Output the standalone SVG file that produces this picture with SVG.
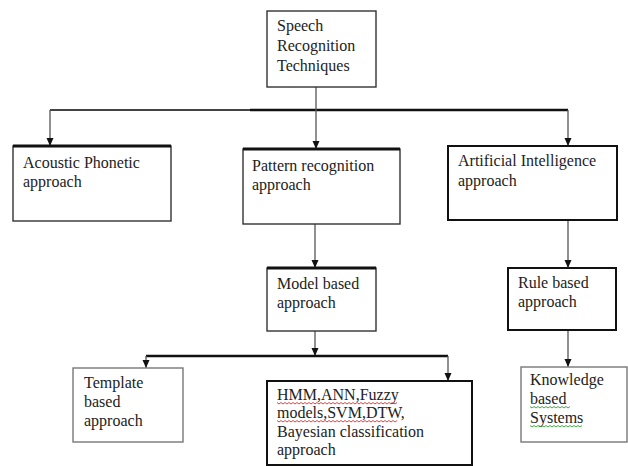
<svg xmlns="http://www.w3.org/2000/svg" width="628" height="466" viewBox="0 0 628 466">
<style>
text{font-family:"Liberation Serif","Times New Roman",serif;font-size:16px;fill:#222}
.box{fill:#fff;stroke:#333;stroke-width:1.4}
.dark{fill:#fff;stroke:#111;stroke-width:2}
.light{fill:#fff;stroke:#777;stroke-width:1.4}
.top{stroke:#111;stroke-width:3}
.v{stroke:#555;stroke-width:1.3;fill:none}
.h{stroke:#111;stroke-width:2.5;fill:none}
.red{stroke:#e03030;stroke-width:0.9;fill:none}
.green{stroke:#30a030;stroke-width:0.9;fill:none}
</style>
<defs>
<marker id="arr" viewBox="-1 -4 10 8" markerWidth="10" markerHeight="8" refX="8" refY="0" orient="auto" markerUnits="userSpaceOnUse">
<path d="M0,-3.5 L8,0 L0,3.5 z" fill="#111"/>
</marker>
</defs>
<rect width="628" height="466" fill="#fff"/>
<g id="connectors">
<path class="h" d="M50,110 H250" style="stroke:#444;stroke-width:2"/>
<path class="h" d="M250,110 H568"/>
<path class="v" d="M316,87 V149" marker-end="url(#arr)"/>
<path class="v" d="M50,110 V146" marker-end="url(#arr)"/>
<path class="v" d="M568,110 V146" marker-end="url(#arr)"/>
<path class="v" d="M315,224 V268" marker-end="url(#arr)"/>
<path class="v" d="M568,220 V268" marker-end="url(#arr)"/>
<path class="v" d="M315,331 V356" marker-end="url(#arr)"/>
<path class="h" d="M146,356 H448"/>
<path class="v" d="M146,356 V368" marker-end="url(#arr)"/>
<path class="v" d="M448,356 V381" marker-end="url(#arr)"/>
<path class="v" d="M568,330 V367" marker-end="url(#arr)"/>
</g>
<g id="speech">
<rect class="box" x="267" y="11" width="109" height="76"/>
<text x="277" y="31">Speech</text>
<text x="277" y="51">Recognition</text>
<text x="277" y="71">Techniques</text>
</g>
<g id="acoustic">
<rect class="box" x="13" y="146" width="158" height="75"/>
<line class="top" x1="13" y1="146" x2="171" y2="146"/>
<text x="23" y="168">Acoustic Phonetic</text>
<text x="23" y="187">approach</text>
</g>
<g id="pattern">
<rect class="box" x="243" y="149" width="157" height="75"/>
<line class="top" x1="243" y1="149" x2="400" y2="149"/>
<text x="252" y="171">Pattern recognition</text>
<text x="252" y="190">approach</text>
</g>
<g id="ai">
<rect class="dark" x="448" y="146" width="169" height="74"/>
<text x="458" y="166">Artificial Intelligence</text>
<text x="458" y="186">approach</text>
</g>
<g id="model">
<rect class="box" x="267" y="268" width="109" height="63"/>
<line class="top" x1="267" y1="268" x2="376" y2="268"/>
<text x="277" y="289">Model based</text>
<text x="277" y="308">approach</text>
</g>
<g id="rule">
<rect class="dark" x="508" y="268" width="108" height="62"/>
<text x="518" y="288">Rule based</text>
<text x="518" y="307">approach</text>
</g>
<g id="template">
<rect class="light" x="73" y="368" width="110" height="74"/>
<text x="84" y="388">Template</text>
<text x="84" y="407">based</text>
<text x="84" y="426">approach</text>
</g>
<g id="hmm">
<rect class="dark" x="267" y="381" width="205" height="84"/>
<text x="277" y="400">HMM,ANN,Fuzzy</text>
<text x="277" y="418">models,SVM,DTW,</text>
<text x="277" y="437">Bayesian classification</text>
<text x="277" y="455">approach</text>
<path class="red" d="M277,402.5 l2,1.5 l2,-1.5 l2,1.5 l2,-1.5 l2,1.5 l2,-1.5 l2,1.5 l2,-1.5 l2,1.5 l2,-1.5 l2,1.5 l2,-1.5 l2,1.5 l2,-1.5 l2,1.5 l2,-1.5 l2,1.5 l2,-1.5 l2,1.5 l2,-1.5 l2,1.5 l2,-1.5 l2,1.5 l2,-1.5 l2,1.5 l2,-1.5 l2,1.5 l2,-1.5 l2,1.5 l2,-1.5 l2,1.5 l2,-1.5 l2,1.5 l2,-1.5 l2,1.5 l2,-1.5 l2,1.5 l2,-1.5 l2,1.5 l2,-1.5 l2,1.5 l2,-1.5 l2,1.5 l2,-1.5 l2,1.5 l2,-1.5 l2,1.5 l2,-1.5 l2,1.5 l2,-1.5 l2,1.5 l2,-1.5 l2,1.5 l2,-1.5 l2,1.5 l2,-1.5 l2,1.5 l2,-1.5 l2,1.5 l2,-1.5"/>
<path class="red" d="M277,420.5 l2,1.5 l2,-1.5 l2,1.5 l2,-1.5 l2,1.5 l2,-1.5 l2,1.5 l2,-1.5 l2,1.5 l2,-1.5 l2,1.5 l2,-1.5 l2,1.5 l2,-1.5 l2,1.5 l2,-1.5 l2,1.5 l2,-1.5 l2,1.5 l2,-1.5 l2,1.5 l2,-1.5 l2,1.5 l2,-1.5 l2,1.5 l2,-1.5 l2,1.5 l2,-1.5 l2,1.5 l2,-1.5 l2,1.5 l2,-1.5 l2,1.5 l2,-1.5 l2,1.5 l2,-1.5 l2,1.5 l2,-1.5 l2,1.5 l2,-1.5 l2,1.5 l2,-1.5 l2,1.5 l2,-1.5 l2,1.5 l2,-1.5 l2,1.5 l2,-1.5 l2,1.5 l2,-1.5 l2,1.5 l2,-1.5 l2,1.5 l2,-1.5 l2,1.5 l2,-1.5 l2,1.5 l2,-1.5 l2,1.5 l2,-1.5"/>
</g>
<g id="knowledge">
<rect class="light" x="521" y="367" width="106" height="75"/>
<text x="530" y="385">Knowledge</text>
<text x="530" y="404">based</text>
<text x="530" y="423">Systems</text>
<path class="green" d="M530,406.5 l2,1.5 l2,-1.5 l2,1.5 l2,-1.5 l2,1.5 l2,-1.5 l2,1.5 l2,-1.5 l2,1.5 l2,-1.5 l2,1.5 l2,-1.5 l2,1.5 l2,-1.5 l2,1.5 l2,-1.5 l2,1.5 l2,-1.5 l2,1.5 l2,-1.5"/>
<path class="green" d="M530,425.5 l2,1.5 l2,-1.5 l2,1.5 l2,-1.5 l2,1.5 l2,-1.5 l2,1.5 l2,-1.5 l2,1.5 l2,-1.5 l2,1.5 l2,-1.5 l2,1.5 l2,-1.5 l2,1.5 l2,-1.5 l2,1.5 l2,-1.5 l2,1.5 l2,-1.5 l2,1.5 l2,-1.5 l2,1.5 l2,-1.5 l2,1.5 l2,-1.5"/>
</g>
</svg>
